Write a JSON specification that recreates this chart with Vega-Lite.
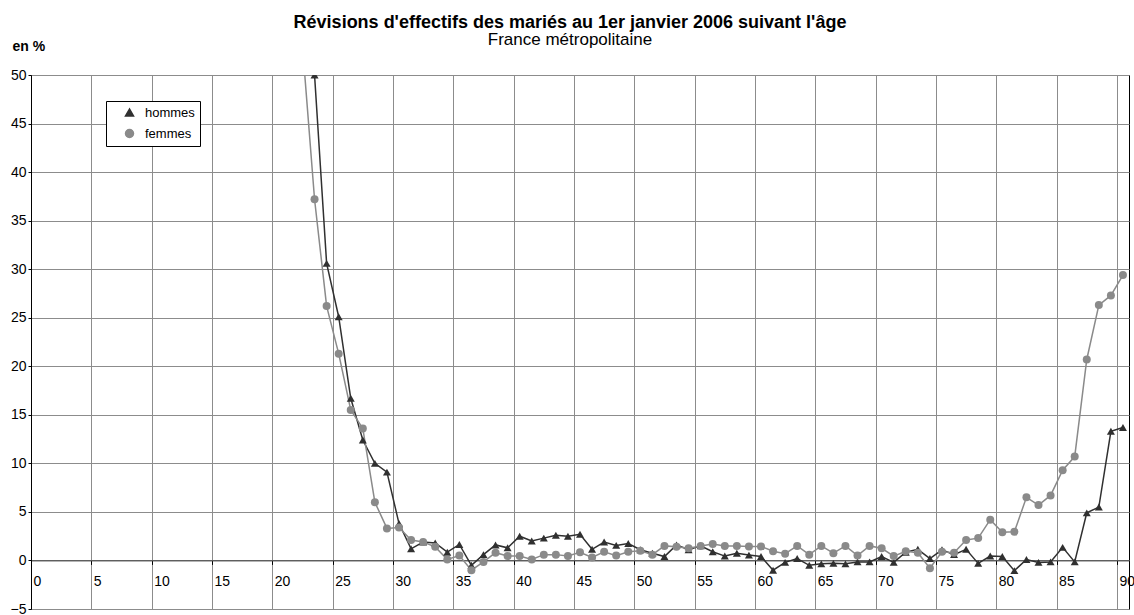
{
  "$schema": "https://vega.github.io/schema/vega-lite/v6.json",
  "width": 1098,
  "height": 534,
  "autosize": {"type": "none"},
  "padding": {"left": 31, "top": 75, "right": 5, "bottom": 6},
  "background": "white",
  "config": {"font": "Liberation Sans", "view": {"stroke": "black", "strokeWidth": 1}},
  "title": {
    "text": "Révisions d'effectifs des mariés au 1er janvier 2006 suivant l'âge",
    "subtitle": "France métropolitaine",
    "anchor": "middle",
    "dx": -10,
    "dy": 36,
    "offset": 27,
    "fontSize": 18,
    "fontWeight": "bold",
    "color": "black",
    "subtitleFontSize": 17,
    "subtitleColor": "black",
    "subtitlePadding": 0,
    "font": "Liberation Sans",
    "subtitleFont": "Liberation Sans"
  },
  "data": {
    "values": [
      {"age": 23, "sexe": "hommes", "v": 50.0},
      {"age": 24, "sexe": "hommes", "v": 30.6},
      {"age": 25, "sexe": "hommes", "v": 25.1},
      {"age": 26, "sexe": "hommes", "v": 16.7},
      {"age": 27, "sexe": "hommes", "v": 12.4},
      {"age": 28, "sexe": "hommes", "v": 10.0},
      {"age": 29, "sexe": "hommes", "v": 9.1},
      {"age": 30, "sexe": "hommes", "v": 3.8},
      {"age": 31, "sexe": "hommes", "v": 1.2},
      {"age": 32, "sexe": "hommes", "v": 1.9},
      {"age": 33, "sexe": "hommes", "v": 1.8},
      {"age": 34, "sexe": "hommes", "v": 0.85},
      {"age": 35, "sexe": "hommes", "v": 1.65},
      {"age": 36, "sexe": "hommes", "v": -0.5},
      {"age": 37, "sexe": "hommes", "v": 0.6},
      {"age": 38, "sexe": "hommes", "v": 1.6},
      {"age": 39, "sexe": "hommes", "v": 1.3},
      {"age": 40, "sexe": "hommes", "v": 2.5},
      {"age": 41, "sexe": "hommes", "v": 2.0},
      {"age": 42, "sexe": "hommes", "v": 2.3},
      {"age": 43, "sexe": "hommes", "v": 2.6},
      {"age": 44, "sexe": "hommes", "v": 2.5},
      {"age": 45, "sexe": "hommes", "v": 2.7},
      {"age": 46, "sexe": "hommes", "v": 1.15},
      {"age": 47, "sexe": "hommes", "v": 1.9},
      {"age": 48, "sexe": "hommes", "v": 1.55},
      {"age": 49, "sexe": "hommes", "v": 1.75},
      {"age": 50, "sexe": "hommes", "v": 1.1},
      {"age": 51, "sexe": "hommes", "v": 0.75},
      {"age": 52, "sexe": "hommes", "v": 0.4},
      {"age": 53, "sexe": "hommes", "v": 1.6},
      {"age": 54, "sexe": "hommes", "v": 1.1},
      {"age": 55, "sexe": "hommes", "v": 1.5},
      {"age": 56, "sexe": "hommes", "v": 0.9},
      {"age": 57, "sexe": "hommes", "v": 0.45},
      {"age": 58, "sexe": "hommes", "v": 0.75},
      {"age": 59, "sexe": "hommes", "v": 0.55},
      {"age": 60, "sexe": "hommes", "v": 0.4},
      {"age": 61, "sexe": "hommes", "v": -1.0},
      {"age": 62, "sexe": "hommes", "v": -0.2},
      {"age": 63, "sexe": "hommes", "v": 0.2},
      {"age": 64, "sexe": "hommes", "v": -0.5},
      {"age": 65, "sexe": "hommes", "v": -0.35},
      {"age": 66, "sexe": "hommes", "v": -0.3},
      {"age": 67, "sexe": "hommes", "v": -0.35},
      {"age": 68, "sexe": "hommes", "v": -0.15},
      {"age": 69, "sexe": "hommes", "v": -0.15},
      {"age": 70, "sexe": "hommes", "v": 0.4},
      {"age": 71, "sexe": "hommes", "v": -0.2},
      {"age": 72, "sexe": "hommes", "v": 0.85},
      {"age": 73, "sexe": "hommes", "v": 1.15},
      {"age": 74, "sexe": "hommes", "v": 0.2},
      {"age": 75, "sexe": "hommes", "v": 1.1},
      {"age": 76, "sexe": "hommes", "v": 0.6},
      {"age": 77, "sexe": "hommes", "v": 1.15},
      {"age": 78, "sexe": "hommes", "v": -0.3},
      {"age": 79, "sexe": "hommes", "v": 0.45},
      {"age": 80, "sexe": "hommes", "v": 0.4},
      {"age": 81, "sexe": "hommes", "v": -1.05},
      {"age": 82, "sexe": "hommes", "v": 0.1},
      {"age": 83, "sexe": "hommes", "v": -0.2},
      {"age": 84, "sexe": "hommes", "v": -0.15},
      {"age": 85, "sexe": "hommes", "v": 1.35},
      {"age": 86, "sexe": "hommes", "v": -0.15},
      {"age": 87, "sexe": "hommes", "v": 4.9},
      {"age": 88, "sexe": "hommes", "v": 5.5},
      {"age": 89, "sexe": "hommes", "v": 13.3},
      {"age": 90, "sexe": "hommes", "v": 13.7},
      {"age": 22, "sexe": "femmes", "v": 53.0},
      {"age": 23, "sexe": "femmes", "v": 37.2},
      {"age": 24, "sexe": "femmes", "v": 26.2},
      {"age": 25, "sexe": "femmes", "v": 21.3},
      {"age": 26, "sexe": "femmes", "v": 15.5},
      {"age": 27, "sexe": "femmes", "v": 13.6},
      {"age": 28, "sexe": "femmes", "v": 6.0},
      {"age": 29, "sexe": "femmes", "v": 3.3},
      {"age": 30, "sexe": "femmes", "v": 3.4},
      {"age": 31, "sexe": "femmes", "v": 2.1},
      {"age": 32, "sexe": "femmes", "v": 1.9},
      {"age": 33, "sexe": "femmes", "v": 1.4},
      {"age": 34, "sexe": "femmes", "v": 0.1},
      {"age": 35, "sexe": "femmes", "v": 0.5},
      {"age": 36, "sexe": "femmes", "v": -1.0},
      {"age": 37, "sexe": "femmes", "v": -0.15},
      {"age": 38, "sexe": "femmes", "v": 0.8},
      {"age": 39, "sexe": "femmes", "v": 0.45},
      {"age": 40, "sexe": "femmes", "v": 0.45},
      {"age": 41, "sexe": "femmes", "v": 0.1},
      {"age": 42, "sexe": "femmes", "v": 0.6},
      {"age": 43, "sexe": "femmes", "v": 0.6},
      {"age": 44, "sexe": "femmes", "v": 0.45},
      {"age": 45, "sexe": "femmes", "v": 0.85},
      {"age": 46, "sexe": "femmes", "v": 0.3},
      {"age": 47, "sexe": "femmes", "v": 0.9},
      {"age": 48, "sexe": "femmes", "v": 0.5},
      {"age": 49, "sexe": "femmes", "v": 0.9},
      {"age": 50, "sexe": "femmes", "v": 1.0},
      {"age": 51, "sexe": "femmes", "v": 0.6},
      {"age": 52, "sexe": "femmes", "v": 1.5},
      {"age": 53, "sexe": "femmes", "v": 1.4},
      {"age": 54, "sexe": "femmes", "v": 1.25},
      {"age": 55, "sexe": "femmes", "v": 1.5},
      {"age": 56, "sexe": "femmes", "v": 1.7},
      {"age": 57, "sexe": "femmes", "v": 1.5},
      {"age": 58, "sexe": "femmes", "v": 1.5},
      {"age": 59, "sexe": "femmes", "v": 1.45},
      {"age": 60, "sexe": "femmes", "v": 1.45},
      {"age": 61, "sexe": "femmes", "v": 0.95},
      {"age": 62, "sexe": "femmes", "v": 0.7},
      {"age": 63, "sexe": "femmes", "v": 1.5},
      {"age": 64, "sexe": "femmes", "v": 0.6},
      {"age": 65, "sexe": "femmes", "v": 1.5},
      {"age": 66, "sexe": "femmes", "v": 0.75},
      {"age": 67, "sexe": "femmes", "v": 1.5},
      {"age": 68, "sexe": "femmes", "v": 0.5},
      {"age": 69, "sexe": "femmes", "v": 1.5},
      {"age": 70, "sexe": "femmes", "v": 1.25},
      {"age": 71, "sexe": "femmes", "v": 0.45},
      {"age": 72, "sexe": "femmes", "v": 0.95},
      {"age": 73, "sexe": "femmes", "v": 0.8},
      {"age": 74, "sexe": "femmes", "v": -0.8},
      {"age": 75, "sexe": "femmes", "v": 0.9},
      {"age": 76, "sexe": "femmes", "v": 0.8},
      {"age": 77, "sexe": "femmes", "v": 2.1},
      {"age": 78, "sexe": "femmes", "v": 2.3},
      {"age": 79, "sexe": "femmes", "v": 4.2},
      {"age": 80, "sexe": "femmes", "v": 2.9},
      {"age": 81, "sexe": "femmes", "v": 2.95},
      {"age": 82, "sexe": "femmes", "v": 6.5},
      {"age": 83, "sexe": "femmes", "v": 5.7},
      {"age": 84, "sexe": "femmes", "v": 6.7},
      {"age": 85, "sexe": "femmes", "v": 9.3},
      {"age": 86, "sexe": "femmes", "v": 10.7},
      {"age": 87, "sexe": "femmes", "v": 20.7},
      {"age": 88, "sexe": "femmes", "v": 26.3},
      {"age": 89, "sexe": "femmes", "v": 27.3},
      {"age": 90, "sexe": "femmes", "v": 29.4}
    ]
  },
  "layer": [
    {
      "mark": {"type": "line", "clip": true, "strokeWidth": 1.5},
      "encoding": {
        "x": {
          "field": "age",
          "type": "quantitative",
          "scale": {"domain": [-0.5, 90.5], "nice": false, "zero": false},
          "axis": {
            "orient": "bottom",
            "values": [-0.5, 4.5, 9.5, 14.5, 19.5, 24.5, 29.5, 34.5, 39.5, 44.5, 49.5, 54.5, 59.5, 64.5, 69.5, 74.5, 79.5, 84.5, 89.5],
            "grid": true,
            "gridColor": "#8c8c8c",
            "gridOpacity": 1,
            "labels": false,
            "ticks": false,
            "domain": false,
            "title": null
          }
        },
        "y": {
          "field": "v",
          "type": "quantitative",
          "scale": {"domain": [-5, 50], "nice": false, "zero": false},
          "axis": {
            "values": [-5, 0, 5, 10, 15, 20, 25, 30, 35, 40, 45, 50],
            "grid": true,
            "gridColor": "#8c8c8c",
            "gridOpacity": 1,
            "domainColor": "black",
            "tickColor": "black",
            "tickSize": 3,
            "labelFontSize": 14,
            "labelColor": "black",
            "labelPadding": 2,
            "title": "en %",
            "titleAngle": 0,
            "titleAlign": "left",
            "titleBaseline": "middle",
            "titleX": -19,
            "titleY": -29,
            "titleFontSize": 14,
            "titleFontWeight": "bold",
            "titleColor": "black"
          }
        },
        "color": {
          "field": "sexe",
          "type": "nominal",
          "scale": {"domain": ["hommes", "femmes"], "range": ["#303030", "#8a8a8a"]},
          "legend": {
            "orient": "none",
            "legendX": 75,
            "legendY": 26,
            "title": null,
            "strokeColor": "black",
            "fillColor": "white",
            "padding": 5,
            "symbolSize": 64,
            "symbolOffset": 12,
            "labelFontSize": 13,
            "labelColor": "black",
            "labelOffset": 9,
            "rowPadding": 6
          }
        }
      }
    },
    {
      "mark": {"type": "point", "filled": true, "clip": true, "opacity": 1, "size": 64},
      "encoding": {
        "x": {
          "field": "age",
          "type": "quantitative",
          "axis": {
            "orient": "bottom",
            "values": [-0.5, 4.5, 9.5, 14.5, 19.5, 24.5, 29.5, 34.5, 39.5, 44.5, 49.5, 54.5, 59.5, 64.5, 69.5, 74.5, 79.5, 84.5, 89.5],
            "labelExpr": "format(datum.value + 0.5, 'd')",
            "grid": false,
            "offset": -48.6,
            "labelAlign": "left",
            "labelOffset": 2,
            "labelPadding": 10,
            "labelFontSize": 14,
            "labelColor": "black",
            "tickSize": 4,
            "tickColor": "black",
            "domainColor": "#404040",
            "title": null
          }
        },
        "y": {"field": "v", "type": "quantitative"},
        "color": {"field": "sexe", "type": "nominal"},
        "shape": {
          "field": "sexe",
          "type": "nominal",
          "scale": {"domain": ["hommes", "femmes"], "range": ["triangle-up", "circle"]},
          "legend": null
        }
      }
    }
  ],
  "resolve": {"axis": {"x": "independent"}}
}
